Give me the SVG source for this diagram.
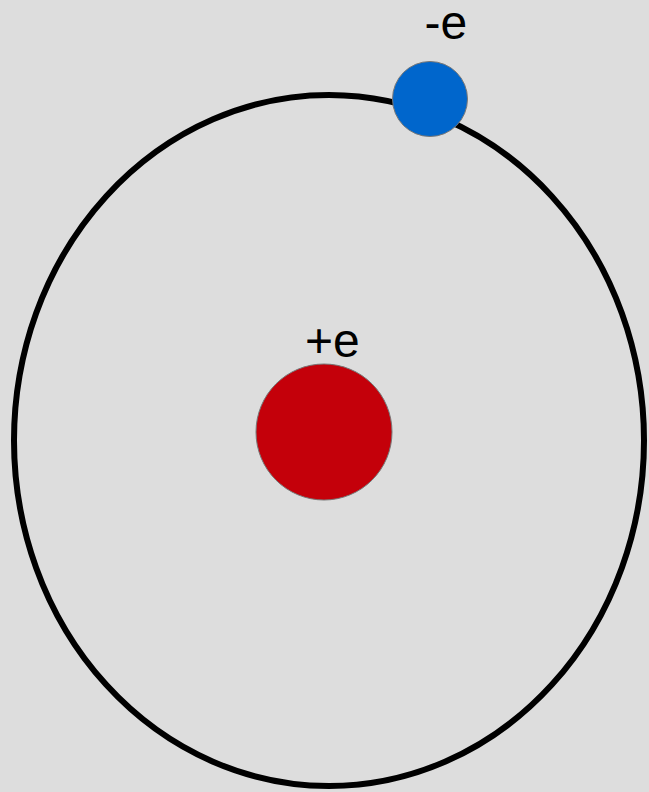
<svg xmlns="http://www.w3.org/2000/svg" width="649" height="792" viewBox="0 0 649 792">
  <style>
    .lbl { font-family: "Liberation Sans", Arial, sans-serif; font-size: 48px; fill: #000; }
    .particle { stroke: #777; stroke-width: 1; }
  </style>
  <rect width="649" height="792" fill="#dddddd"/>
  <g id="orbit">
    <ellipse cx="329" cy="440.5" rx="315" ry="345.5" fill="none" stroke="#000" stroke-width="6"/>
  </g>
  <g id="nucleus">
    <circle class="particle" cx="324" cy="432" r="68" fill="#c4000a"/>
    <text class="lbl" x="305" y="356.5">+e</text>
  </g>
  <g id="electron">
    <circle class="particle" cx="430" cy="99" r="37.5" fill="#0066cc"/>
    <text class="lbl" x="424.5" y="38.5">-e</text>
  </g>
</svg>
